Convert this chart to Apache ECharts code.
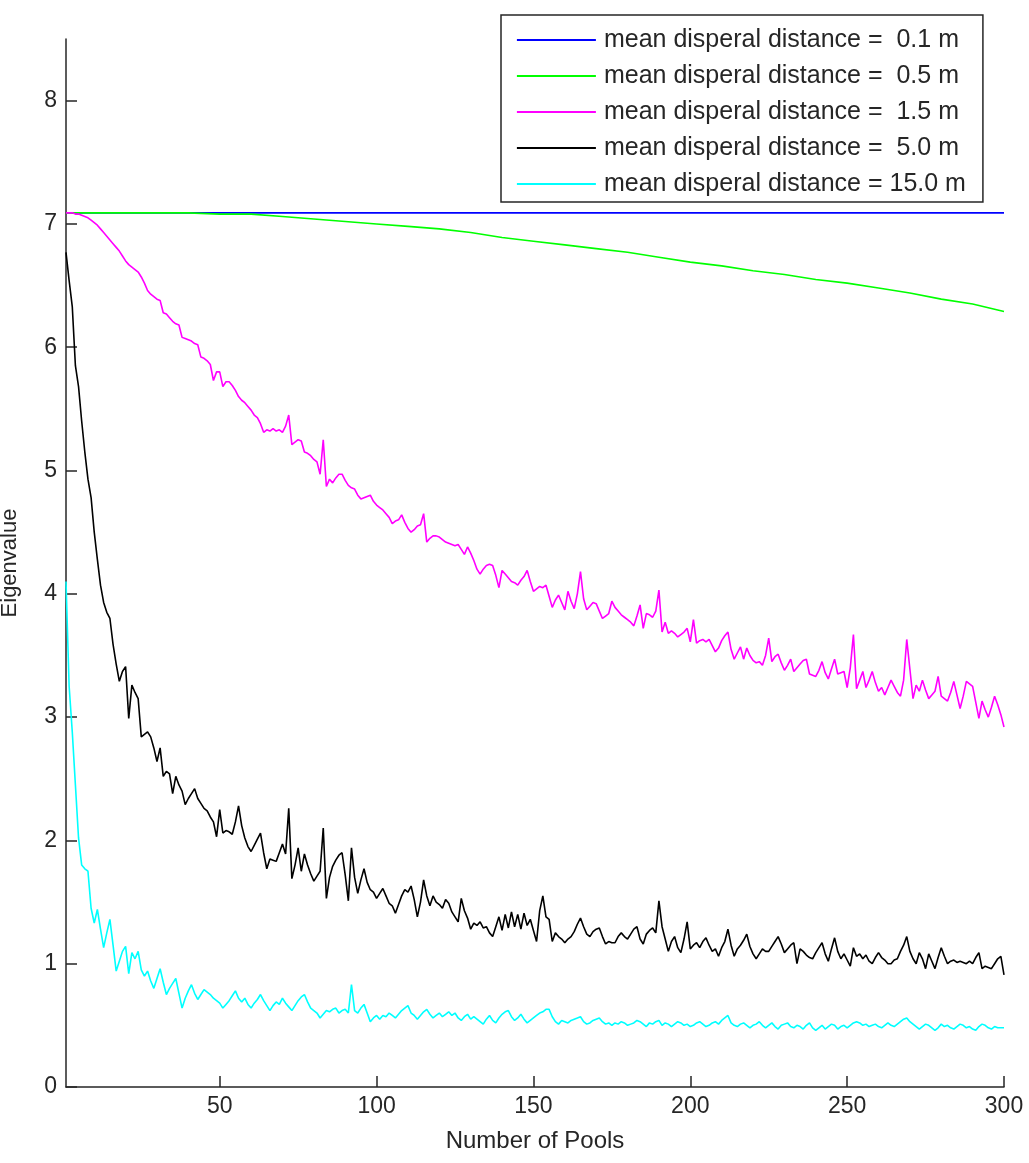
<!DOCTYPE html>
<html>
<head>
<meta charset="utf-8">
<title>Eigenvalue vs Number of Pools</title>
<script src="https://cdn.jsdelivr.net/npm/echarts@6/dist/echarts.min.js"></script>
<style>
  html, body { margin: 0; padding: 0; background: #fff; }
  #chart { width: 1029px; height: 1163px; }
</style>
</head>
<body>
<div id="chart"></div>
<script>
// Legend labels, one per dispersal distance
const seriesNames = [
  'mean disperal distance =  0.1 m',
  'mean disperal distance =  0.5 m',
  'mean disperal distance =  1.5 m',
  'mean disperal distance =  5.0 m',
  'mean disperal distance = 15.0 m'
];
const seriesColors = ['#0000ff', '#00ff00', '#ff00ff', '#000000', '#00ffff'];

// Axis ticks
const xTicks = [50, 100, 150, 200, 250, 300];
const yTicks = [0, 1, 2, 3, 4, 5, 6, 7, 8];

// 0.1 m: flat eigenvalue
const blueP = [1, 300];
const blueV = [7.09, 7.09];

// 0.5 m: slow, smooth decline (sampled pools)
const greenP = [1, 10, 20, 30, 40, 50, 60, 70, 80, 90, 100, 110, 120, 130, 140, 150,
  160, 170, 180, 190, 200, 210, 220, 230, 240, 250, 260, 270, 280, 290, 300];
const greenV = [7.09, 7.09, 7.09, 7.09, 7.09, 7.08, 7.08, 7.06, 7.04, 7.02, 7.00, 6.98, 6.96, 6.93, 6.89, 6.86,
  6.83, 6.80, 6.77, 6.73, 6.69, 6.66, 6.62, 6.59, 6.55, 6.52, 6.48, 6.44, 6.39, 6.35, 6.29];

// 1.5 m: one value per pool, pools 1..300
const magentaV = [
  7.09, 7.09, 7.09, 7.08, 7.08, 7.07, 7.06, 7.05, 7.03, 7.01,
  6.99, 6.96, 6.93, 6.90, 6.87, 6.84, 6.81, 6.78, 6.74, 6.70,
  6.67, 6.65, 6.63, 6.61, 6.57, 6.52, 6.46, 6.43, 6.41, 6.39,
  6.38, 6.28, 6.27, 6.24, 6.21, 6.19, 6.18, 6.08, 6.07, 6.06,
  6.05, 6.03, 6.02, 5.92, 5.91, 5.89, 5.86, 5.73, 5.80, 5.80,
  5.68, 5.72, 5.72, 5.69, 5.65, 5.60, 5.57, 5.55, 5.52, 5.49,
  5.45, 5.43, 5.38, 5.31, 5.33, 5.32, 5.34, 5.32, 5.33, 5.31,
  5.36, 5.45, 5.21, 5.23, 5.25, 5.24, 5.15, 5.14, 5.12, 5.09,
  5.07, 4.97, 5.25, 4.87, 4.93, 4.90, 4.94, 4.97, 4.97, 4.92,
  4.88, 4.86, 4.85, 4.80, 4.77, 4.78, 4.79, 4.80, 4.75, 4.72,
  4.70, 4.68, 4.65, 4.62, 4.57, 4.59, 4.60, 4.64, 4.58, 4.53,
  4.50, 4.52, 4.55, 4.56, 4.65, 4.42, 4.45, 4.47, 4.47, 4.46,
  4.44, 4.42, 4.41, 4.40, 4.39, 4.40, 4.36, 4.32, 4.38, 4.33,
  4.27, 4.20, 4.16, 4.20, 4.23, 4.24, 4.23, 4.15, 4.05, 4.19,
  4.16, 4.13, 4.10, 4.09, 4.07, 4.11, 4.14, 4.19, 4.10, 4.02,
  4.04, 4.06, 4.05, 4.07, 3.98, 3.89, 3.95, 3.99, 3.93, 3.87,
  4.02, 3.94, 3.88, 4.00, 4.18, 3.96, 3.87, 3.90, 3.93, 3.92,
  3.86, 3.80, 3.82, 3.84, 3.94, 3.89, 3.86, 3.83, 3.81, 3.79,
  3.77, 3.74, 3.82, 3.91, 3.72, 3.84, 3.83, 3.81, 3.86, 4.03,
  3.69, 3.77, 3.68, 3.70, 3.68, 3.65, 3.67, 3.69, 3.72, 3.61,
  3.79, 3.60, 3.62, 3.63, 3.61, 3.63, 3.58, 3.53, 3.56, 3.62,
  3.66, 3.69, 3.55, 3.47, 3.52, 3.57, 3.47, 3.56, 3.50, 3.46,
  3.44, 3.45, 3.42, 3.50, 3.64, 3.45, 3.49, 3.51, 3.44, 3.38,
  3.42, 3.47, 3.37, 3.40, 3.43, 3.46, 3.47, 3.35, 3.34, 3.33,
  3.38, 3.45, 3.36, 3.31, 3.39, 3.47, 3.35, 3.36, 3.37, 3.24,
  3.40, 3.67, 3.23, 3.30, 3.37, 3.24, 3.30, 3.37, 3.28, 3.21,
  3.24, 3.18, 3.24, 3.30, 3.25, 3.20, 3.17, 3.30, 3.63, 3.39,
  3.15, 3.26, 3.21, 3.30, 3.22, 3.15, 3.18, 3.21, 3.33, 3.17,
  3.15, 3.13, 3.20, 3.29, 3.18, 3.07, 3.17, 3.29, 3.27, 3.25,
  3.12, 2.99, 3.13, 3.06, 3.00, 3.08, 3.17, 3.10, 3.02, 2.92
];

// 5.0 m: one value per pool, pools 1..300
const blackV = [
  6.77, 6.54, 6.33, 5.85, 5.68, 5.40, 5.15, 4.93, 4.78, 4.50,
  4.28, 4.07, 3.93, 3.85, 3.80, 3.59, 3.43, 3.29, 3.37, 3.41,
  2.99, 3.26, 3.20, 3.15, 2.84, 2.86, 2.88, 2.84, 2.75, 2.64,
  2.75, 2.52, 2.56, 2.54, 2.38, 2.52, 2.45, 2.40, 2.29, 2.34,
  2.38, 2.42, 2.34, 2.30, 2.26, 2.24, 2.19, 2.15, 2.03, 2.25,
  2.06, 2.08, 2.07, 2.05, 2.15, 2.28, 2.12, 2.02, 1.95, 1.91,
  1.96, 2.01, 2.06, 1.90, 1.77, 1.85, 1.84, 1.83, 1.90, 1.97,
  1.89, 2.26, 1.69, 1.80, 1.94, 1.75, 1.89, 1.80, 1.73, 1.67,
  1.71, 1.75, 2.10, 1.53, 1.70, 1.79, 1.84, 1.88, 1.90, 1.72,
  1.51, 1.94, 1.70, 1.57, 1.68, 1.77, 1.66, 1.60, 1.58, 1.53,
  1.57, 1.61, 1.55, 1.49, 1.47, 1.41, 1.48, 1.55, 1.60, 1.58,
  1.63, 1.52, 1.38, 1.50, 1.68, 1.55, 1.47, 1.55, 1.50, 1.48,
  1.45, 1.52, 1.49, 1.42, 1.38, 1.34, 1.53, 1.43, 1.37, 1.28,
  1.33, 1.31, 1.34, 1.29, 1.30, 1.25, 1.22, 1.30, 1.38, 1.27,
  1.40, 1.29, 1.42, 1.30, 1.40, 1.28, 1.41, 1.31, 1.36, 1.27,
  1.18, 1.43, 1.55, 1.38, 1.36, 1.18, 1.25, 1.22, 1.20, 1.17,
  1.20, 1.22, 1.26, 1.32, 1.37, 1.30, 1.24, 1.22, 1.26, 1.28,
  1.29, 1.22, 1.16, 1.18, 1.17, 1.17, 1.22, 1.25, 1.22, 1.20,
  1.24, 1.28, 1.30, 1.20, 1.16, 1.24, 1.27, 1.29, 1.25, 1.51,
  1.30, 1.20, 1.10, 1.18, 1.22, 1.13, 1.09, 1.20, 1.34, 1.12,
  1.15, 1.17, 1.13, 1.18, 1.21, 1.15, 1.10, 1.12, 1.06, 1.13,
  1.18, 1.28, 1.15, 1.06, 1.12, 1.15, 1.19, 1.24, 1.14, 1.08,
  1.04, 1.08, 1.12, 1.10, 1.10, 1.14, 1.18, 1.22, 1.16, 1.09,
  1.12, 1.15, 1.17, 1.00, 1.12, 1.10, 1.07, 1.05, 1.04, 1.09,
  1.13, 1.17, 1.08, 1.02, 1.12, 1.21, 1.10, 1.04, 1.08, 1.03,
  0.98, 1.13, 1.06, 1.08, 1.04, 1.07, 1.02, 1.00, 1.05, 1.09,
  1.05, 1.03, 1.00, 1.00, 1.03, 1.04, 1.10, 1.15, 1.22, 1.10,
  1.04, 1.00, 1.09, 1.04, 0.96, 1.08, 1.02, 0.96, 1.05, 1.13,
  1.06, 1.00, 1.02, 1.03, 1.01, 1.02, 1.01, 1.00, 1.02, 1.00,
  1.05, 1.09, 0.96, 0.98, 0.97, 0.96, 1.00, 1.04, 1.06, 0.91
];

// 15.0 m: one value per pool, pools 1..300
const cyanV = [
  4.10, 3.25, 2.88, 2.45, 2.02, 1.80, 1.77, 1.75, 1.45, 1.33,
  1.44, 1.28, 1.13, 1.25, 1.36, 1.15, 0.94, 1.02, 1.10, 1.14,
  0.92, 1.09, 1.04, 1.10, 0.95, 0.90, 0.94, 0.86, 0.80, 0.88,
  0.96, 0.85, 0.75, 0.80, 0.84, 0.88, 0.76, 0.64, 0.72, 0.78,
  0.83, 0.76, 0.71, 0.75, 0.79, 0.77, 0.75, 0.72, 0.70, 0.68,
  0.64, 0.67, 0.70, 0.74, 0.78, 0.72, 0.69, 0.72, 0.67, 0.64,
  0.68, 0.71, 0.75, 0.70, 0.66, 0.62, 0.66, 0.69, 0.67, 0.72,
  0.68, 0.65, 0.62, 0.66, 0.70, 0.73, 0.75, 0.69, 0.64, 0.62,
  0.60, 0.56, 0.59, 0.62, 0.61, 0.63, 0.64, 0.60, 0.62, 0.63,
  0.60, 0.83, 0.62, 0.60, 0.64, 0.67, 0.60, 0.53, 0.56, 0.58,
  0.55, 0.58, 0.57, 0.60, 0.58, 0.56, 0.59, 0.62, 0.64, 0.66,
  0.60, 0.58, 0.55, 0.58, 0.61, 0.63, 0.59, 0.56, 0.58, 0.60,
  0.57, 0.59, 0.61, 0.58, 0.60, 0.56, 0.54, 0.57, 0.59, 0.55,
  0.57, 0.55, 0.53, 0.51, 0.55, 0.58, 0.54, 0.52, 0.56, 0.59,
  0.61, 0.62, 0.57, 0.54, 0.56, 0.59, 0.55, 0.52, 0.54, 0.56,
  0.58, 0.60, 0.61, 0.63, 0.63, 0.57, 0.53, 0.51, 0.54, 0.53,
  0.52, 0.54, 0.55, 0.56, 0.57, 0.53, 0.51, 0.52, 0.54, 0.55,
  0.56, 0.53, 0.51, 0.52, 0.50, 0.52, 0.51, 0.53, 0.52, 0.50,
  0.51, 0.52, 0.54, 0.53, 0.51, 0.49, 0.52, 0.51, 0.53, 0.54,
  0.50, 0.52, 0.51, 0.49, 0.51, 0.53, 0.52, 0.50, 0.51, 0.49,
  0.50, 0.52, 0.53, 0.51, 0.49, 0.50, 0.52, 0.53, 0.51, 0.54,
  0.56, 0.58, 0.52, 0.50, 0.49, 0.51, 0.52, 0.50, 0.48, 0.50,
  0.51, 0.53, 0.50, 0.48, 0.50, 0.52, 0.49, 0.47, 0.50, 0.51,
  0.52, 0.49, 0.48, 0.50, 0.49, 0.47, 0.50, 0.52, 0.48, 0.46,
  0.48, 0.50, 0.47, 0.49, 0.51, 0.50, 0.47, 0.49, 0.50, 0.48,
  0.50, 0.52, 0.53, 0.52, 0.50, 0.51, 0.49, 0.50, 0.51, 0.49,
  0.48, 0.50, 0.52, 0.50, 0.49, 0.51, 0.53, 0.55, 0.56, 0.53,
  0.51, 0.49, 0.47, 0.49, 0.51, 0.50, 0.48, 0.46, 0.48, 0.51,
  0.49, 0.50, 0.48, 0.47, 0.49, 0.51, 0.50, 0.48, 0.49, 0.47,
  0.46, 0.49, 0.51, 0.50, 0.48, 0.47, 0.49, 0.48, 0.48, 0.48
];

// pair pool numbers with eigenvalues
const paired = (pools, vals) => vals.map((v, i) => [pools[i], v]);
const perPool = vals => vals.map((v, i) => [i + 1, v]);

const seriesData = [
  paired(blueP, blueV),
  paired(greenP, greenV),
  perPool(magentaV),
  perPool(blackV),
  perPool(cyanV)
];

const INK = '#262626';
const FONT = '"Liberation Sans", Arial, Helvetica, sans-serif';

const chart = echarts.init(document.getElementById('chart'), null, { renderer: 'canvas' });

chart.setOption({
  animation: false,
  backgroundColor: '#ffffff',
  textStyle: { fontFamily: FONT, color: INK },
  grid: {
    left: 66, right: 25, top: 39, bottom: 76,
    containLabel: false,
    outerBoundsMode: 'none'
  },
  legend: {
    data: seriesNames,
    orient: 'vertical',
    left: 501,
    top: 15,
    padding: [12, 17, 5, 15],
    itemGap: 10,
    itemWidth: 79,
    itemHeight: 14,
    backgroundColor: '#ffffff',
    borderColor: INK,
    borderWidth: 1.5,
    borderRadius: 0,
    selectedMode: false,
    // line-only keys, no marker dot
    itemStyle: { opacity: 0 },
    lineStyle: { width: 1.8 },
    textStyle: {
      fontFamily: FONT,
      fontSize: 25,
      lineHeight: 26,
      color: INK,
      padding: [0, 0, 0, 3]
    }
  },
  xAxis: {
    type: 'value',
    min: 1,
    max: 300,
    name: 'Number of Pools',
    nameLocation: 'middle',
    nameGap: 42,
    nameTextStyle: { fontFamily: FONT, fontSize: 24, color: INK },
    axisLine: { show: true, onZero: false, lineStyle: { color: INK, width: 1.5 } },
    axisTick: { show: true, inside: true, length: 11, customValues: xTicks, lineStyle: { color: INK, width: 1.5 } },
    axisLabel: { show: true, customValues: xTicks, margin: 8, fontFamily: FONT, fontSize: 23, color: INK },
    splitLine: { show: false },
    minorTick: { show: false }
  },
  yAxis: {
    type: 'value',
    min: 0,
    max: 8.5,
    name: 'Eigenvalue',
    nameLocation: 'middle',
    nameGap: 45,
    nameRotate: 90,
    nameTextStyle: { fontFamily: FONT, fontSize: 22, color: INK },
    axisLine: { show: true, onZero: false, lineStyle: { color: INK, width: 1.5 } },
    axisTick: { show: true, inside: true, length: 11, customValues: yTicks, lineStyle: { color: INK, width: 1.5 } },
    axisLabel: { show: true, customValues: yTicks, margin: 9, fontFamily: FONT, fontSize: 23, color: INK },
    splitLine: { show: false }
  },
  series: seriesNames.map((name, k) => ({
    name: name,
    type: 'line',
    data: seriesData[k],
    symbol: 'none',
    showSymbol: false,
    smooth: false,
    clip: true,
    color: seriesColors[k],
    itemStyle: { color: seriesColors[k] },
    lineStyle: { color: seriesColors[k], width: 1.6 },
    emphasis: { disabled: true },
    z: 2 + k
  }))
});
</script>
</body>
</html>
